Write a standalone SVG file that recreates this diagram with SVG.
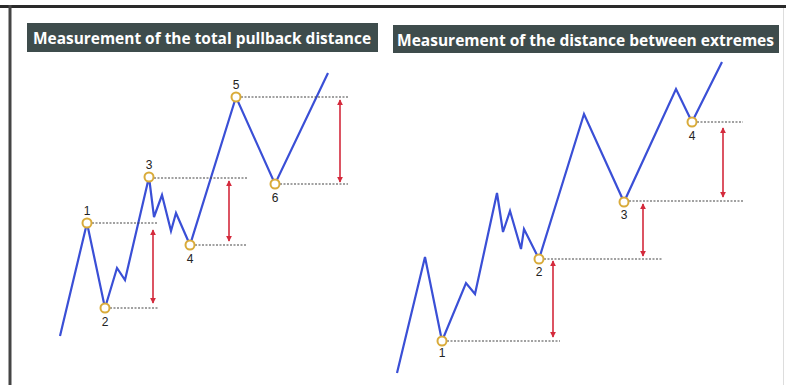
<svg xmlns="http://www.w3.org/2000/svg" width="786" height="385" viewBox="0 0 786 385">
<defs>
<style>
.title{fill:#3e4c4c}
.tt{fill:#ffffff;font-family:"Open Sans",Lato,sans-serif;font-weight:bold;font-size:16px}
.wave{fill:none;stroke:#3a4fd6;stroke-width:2.2;stroke-linejoin:miter}
.dot{stroke:#444;stroke-width:1.2;stroke-dasharray:2 1.5;fill:none}
.arr{stroke:#d42a3c;stroke-width:1.6;marker-start:url(#ah);marker-end:url(#ah)}
.pt{fill:#fff;stroke:#d9ab3a;stroke-width:2}
.lb{fill:#222;font-family:"Liberation Sans",Arial,sans-serif;font-size:12px;text-anchor:middle}
</style>
<marker id="ah" viewBox="0 0 8 8" refX="7" refY="4" markerWidth="6" markerHeight="6" orient="auto-start-reverse" markerUnits="userSpaceOnUse">
<path d="M0,0 L8,4 L0,8 Z" fill="#d42a3c"/>
</marker>
</defs>
<rect width="786" height="385" fill="#ffffff"/>
<line x1="0" y1="6.5" x2="786" y2="6.5" stroke="#2a2a2a" stroke-width="3"/>
<line x1="10" y1="5" x2="10" y2="385" stroke="#444" stroke-width="3"/>
<line x1="783.5" y1="8" x2="783.5" y2="385" stroke="#ddd" stroke-width="1"/>

<g id="title-left">
<rect class="title" x="27" y="23" width="351" height="29"/>
<text class="tt" x="33" y="43.5" textLength="338" lengthAdjust="spacingAndGlyphs">Measurement of the total pullback distance</text>
</g>
<g id="title-right">
<rect class="title" x="393" y="25" width="386" height="28"/>
<text class="tt" x="397" y="45.5" textLength="377" lengthAdjust="spacingAndGlyphs">Measurement of the distance between extremes</text>
</g>

<g id="connectors">
<polyline class="wave" points="60,336 87,223 105,308 117,268 125,280 149,177 154,217 162,195 171,231 176,213 190,245 236,97 275,184 328,73"/>
<polyline class="wave" points="397,373 425,257 442,341 466,283 475,294 497,193 503,232 510,211 521,249 524,229 539,259 584,114 624,202 676,89 692,122 722,62"/>
<line class="dot" x1="92" y1="223" x2="158" y2="223"/>
<line class="dot" x1="110" y1="308" x2="158" y2="308"/>
<line class="dot" x1="154" y1="178" x2="247" y2="178"/>
<line class="dot" x1="195" y1="245" x2="247" y2="245"/>
<line class="dot" x1="241" y1="97" x2="348" y2="97"/>
<line class="dot" x1="280" y1="184" x2="348" y2="184"/>
<line class="arr" x1="153" y1="230" x2="153" y2="303"/>
<line class="arr" x1="229" y1="181" x2="229" y2="241"/>
<line class="arr" x1="340" y1="100" x2="340" y2="182"/>
<line class="dot" x1="447" y1="341" x2="560" y2="341"/>
<line class="dot" x1="544" y1="259" x2="663" y2="259"/>
<line class="dot" x1="629" y1="201" x2="743" y2="201"/>
<line class="dot" x1="697" y1="122" x2="743" y2="122"/>
<line class="arr" x1="553" y1="261" x2="553" y2="337"/>
<line class="arr" x1="643" y1="204" x2="643" y2="256"/>
<line class="arr" x1="723" y1="128" x2="723" y2="197"/>
</g>

<g id="L1"><circle class="pt" cx="87" cy="223" r="4.5"/><text class="lb" x="87" y="215">1</text></g>
<g id="L2"><circle class="pt" cx="105" cy="308" r="4.5"/><text class="lb" x="105" y="326">2</text></g>
<g id="L3"><circle class="pt" cx="149" cy="177" r="4.5"/><text class="lb" x="149" y="169">3</text></g>
<g id="L4"><circle class="pt" cx="190" cy="245" r="4.5"/><text class="lb" x="190" y="263">4</text></g>
<g id="L5"><circle class="pt" cx="236" cy="97" r="4.5"/><text class="lb" x="236" y="89">5</text></g>
<g id="L6"><circle class="pt" cx="275" cy="184" r="4.5"/><text class="lb" x="275" y="202">6</text></g>

<g id="R1"><circle class="pt" cx="442" cy="341" r="4.5"/><text class="lb" x="442" y="357">1</text></g>
<g id="R2"><circle class="pt" cx="539" cy="259" r="4.5"/><text class="lb" x="539" y="276">2</text></g>
<g id="R3"><circle class="pt" cx="624" cy="202" r="4.5"/><text class="lb" x="624" y="219">3</text></g>
<g id="R4"><circle class="pt" cx="692" cy="122" r="4.5"/><text class="lb" x="692" y="140">4</text></g>
</svg>
